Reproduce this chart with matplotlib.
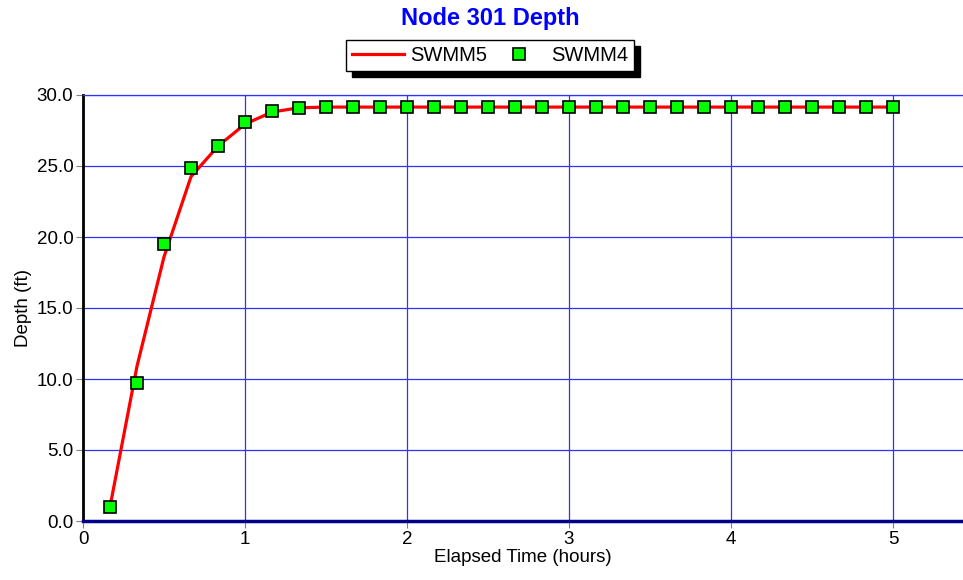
import matplotlib
matplotlib.use("Agg")
import matplotlib.pyplot as plt

plt.rcParams['font.family'] = ['Liberation Sans', 'DejaVu Sans']

# elapsed time (hours), every 10 minutes
hours = [0.1667, 0.3333, 0.5, 0.6667, 0.8333, 1.0, 1.1667, 1.3333, 1.5, 1.6667,
         1.8333, 2.0, 2.1667, 2.3333, 2.5, 2.6667, 2.8333, 3.0, 3.1667, 3.3333,
         3.5, 3.6667, 3.8333, 4.0, 4.1667, 4.3333, 4.5, 4.6667, 4.8333, 5.0]
swmm5 = [1.0, 10.9, 18.6, 24.25, 26.4, 27.95, 28.8, 29.1, 29.15, 29.15,
         29.15, 29.15, 29.15, 29.15, 29.15, 29.15, 29.15, 29.15, 29.15, 29.15,
         29.15, 29.15, 29.15, 29.15, 29.15, 29.15, 29.15, 29.15, 29.15, 29.15]
swmm4 = [1.0, 9.7, 19.5, 24.85, 26.4, 28.1, 28.85, 29.08, 29.15, 29.15,
         29.15, 29.15, 29.15, 29.15, 29.15, 29.15, 29.15, 29.15, 29.15, 29.15,
         29.15, 29.15, 29.15, 29.15, 29.15, 29.15, 29.15, 29.15, 29.15, 29.15]
yticks = [0, 5, 10, 15, 20, 25, 30]
xticks = [0, 1, 2, 3, 4, 5]

fig = plt.figure(figsize=(9.63, 5.8), dpi=100)
ax = fig.add_axes([83/963, 59/580, 880/963, 426/580])

ax.plot(hours, swmm5, color='red', lw=2.3, label='SWMM5', zorder=3)
ax.plot(hours, swmm4, ls='none', marker='s', ms=8, mfc='#00ff00', mec='black',
        mew=1.2, label='SWMM4', zorder=4)

ax.set_xlim(0, 880/162)
ax.set_ylim(0, 30)
ax.set_xticks(xticks)
ax.set_yticks(yticks)
ax.set_yticklabels(['%.1f' % v for v in yticks])
ax.grid(True, color='#3030ff', lw=0.9)
ax.set_axisbelow(True)

ax.spines['right'].set_visible(False)
ax.spines['top'].set_color('#3030ff')
ax.spines['top'].set_linewidth(0.9)
ax.spines['left'].set_color('black')
ax.spines['left'].set_linewidth(2)
ax.spines['bottom'].set_color('#00008b')
ax.spines['bottom'].set_linewidth(2.5)
ax.tick_params(direction='out', length=5, color='gray', labelsize=13.5, pad=2)

ax.set_xlabel('Elapsed Time (hours)', fontsize=13.5, labelpad=1)
ax.set_ylabel('Depth (ft)', fontsize=13.5, labelpad=3)
fig.text(490/963, 1 - 18/580, 'Node 301 Depth', fontsize=17, fontweight='bold',
         color='blue', ha='center', va='center')

leg = fig.legend(loc='center', bbox_to_anchor=(490/963, 1 - 55.5/580), ncol=2,
                 fancybox=False, edgecolor='black', framealpha=1,
                 shadow={'color': 'black', 'alpha': 1, 'ox': 4.5, 'oy': -4.5},
                 fontsize=14.5, handlelength=2.6, columnspacing=0.25,
                 borderpad=0.3, handletextpad=0.3, borderaxespad=0)
leg.get_frame().set_linewidth(1)

fig.savefig('out.png', dpi=100)
